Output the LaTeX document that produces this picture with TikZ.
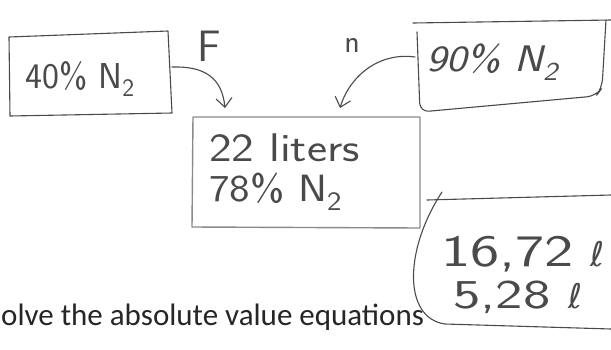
\documentclass[tikz,border=0pt]{standalone}
\usepackage{graphicx}
\usepackage{fontspec}
\newfontfamily\printfont{Carlito}
\newfontfamily\ellfont{DejaVu Sans}
\usetikzlibrary{arrows.meta}
\definecolor{pencil}{HTML}{4A4A4A}
\definecolor{lightpencil}{HTML}{8A8A8A}
\definecolor{ink}{HTML}{4A4A4A}
\newcommand{\handsize}[1]{\sffamily\fontsize{#1}{#1}\selectfont}
\newcommand{\litre}[1]{{\ellfont\fontsize{#1}{#1}\selectfont ℓ}}
\newcommand{\wide}[2]{\scalebox{#1}[1]{#2}}
\tikzset{
  hand/.style={text=ink, inner sep=0pt, anchor=west},
  smallhand/.style={text=ink, inner sep=0pt},
  stroke/.style={draw=pencil, line width=1.1pt, line join=round, line cap=round},
  lightstroke/.style={draw=lightpencil, line width=1.4pt, line join=round, line cap=round},
  flow/.style={stroke, -{Straight Barb[length=9pt,width=16pt]}}
}
\begin{document}
\begin{tikzpicture}[x=1pt,y=-1pt]
\useasboundingbox (0,0) rectangle (611,349);
% box shapes
\draw[stroke] (9,37) -- (168,31) -- (172,113) -- (10,116) -- cycle;
\draw[lightstroke] (193,117) -- (420,117) -- (420,228) -- (192,227) -- cycle;
\draw[stroke] (413,23) -- (611,20);
\draw[stroke, rounded corners=9pt] (417,32) -- (420,112) -- (596,96) -- (602,88) -- (606,20);
\draw[stroke] (427,200) -- (611,195);
\draw[stroke] (442,192) .. controls (404,250) and (403,318) .. (445,324) -- (611,329);
% texts
\node[hand, font=\handsize{36}] (t1) at (25,79) {40\% N\textsubscript{2}};
\node[hand, font=\handsize{40}] (t2a) at (209,148) {\wide{1.2}{22 liters}};
\node[hand, font=\handsize{38}] (t2b) at (209,192) {\wide{1.15}{78\% N\textsubscript{2}}};
\node[hand, font=\sffamily\itshape\fontsize{37}{37}\selectfont] (t3) at (426,62) {\wide{1.17}{90\% N\textsubscript{2}}};
\node[hand, font=\handsize{45}] (t4a) at (441,254) {\wide{1.38}{16,72}\hspace{16pt}\litre{34}};
\node[hand, font=\handsize{41}] (t4b) at (453,297) {\wide{1.42}{5,28}\hspace{18pt}\litre{34}};
\node[smallhand, font=\handsize{44}] (F) at (209,46) {F};
\node[smallhand, font=\handsize{32}] (n) at (352,45) {n};
% connectors
\coordinate (f0) at (172,67);
\coordinate (f1) at (225,108);
\coordinate (n0) at (415,57);
\coordinate (n1) at (340,108);
\draw[flow] (f0) .. controls (205,66) and (222,78) .. (f1);
\draw[flow] (n0) .. controls (380,52) and (350,75) .. (n1);
% printed text
\node[anchor=base west, inner sep=0pt, text=black!85, font=\printfont\fontsize{31}{33}\selectfont] (solve) at (1,325) {olve the absolute value equations};
\end{tikzpicture}
\end{document}
